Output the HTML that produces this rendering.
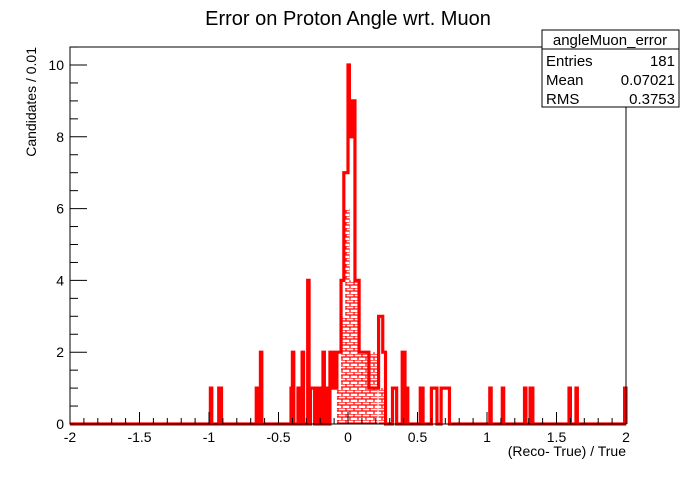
<!DOCTYPE html>
<html><head><meta charset="utf-8"><style>
body{margin:0;background:#fff;}
svg text{font-family:"Liberation Sans",Arial,sans-serif;}
</style></head><body>
<svg id="chart" width="696" height="472" xmlns="http://www.w3.org/2000/svg">
<defs>
<pattern id="brick" width="8" height="6" patternUnits="userSpaceOnUse">
<rect width="8" height="6" fill="#fff"/>
<path d="M0 0H8M0 3H8M2 0V3M6 3V6" stroke="#f00" stroke-width="1.2"/>
</pattern>
</defs>
<rect width="696" height="472" fill="#fff"/>
<text x="348" y="25" font-size="20" text-anchor="middle">Error on Proton Angle wrt. Muon</text>
<g id="hatch"></g>
<g id="marks"></g>
<rect x="70" y="47" width="556" height="377" fill="none" stroke="#000" stroke-width="1"/>
<g id="axes"></g>
<text transform="translate(36,47) rotate(-90)" font-size="14" text-anchor="end">Candidates / 0.01</text>
<text x="626" y="456" font-size="14" text-anchor="end">(Reco- True) / True</text>
<g>
<rect x="542" y="30" width="137" height="77" fill="#fff" stroke="#000"/>
<line x1="542" y1="49" x2="679" y2="49" stroke="#000"/>
<text x="610" y="45" font-size="15" text-anchor="middle">angleMuon_error</text>
<text x="546" y="66" font-size="15">Entries</text><text x="675" y="66" font-size="15" text-anchor="end">181</text>
<text x="546" y="85" font-size="15">Mean</text><text x="675" y="85" font-size="15" text-anchor="end">0.07021</text>
<text x="546" y="104" font-size="15">RMS</text><text x="675" y="104" font-size="15" text-anchor="end">0.3753</text>
</g>
</svg>
<script>
// bin low edges in units of 0.01, and counts
const binEdges = [-99,-93,-92,-66,-63,-41,-40,-36,-35,-33,-29,-27,-26,-25,-23,-20,-18,-17,-15,-13,-12,-11,-10,-9,-8,-7,-6,-5,-4,-3,-2,-1,0,1,2,3,4,5,6,7,8,9,10,11,12,13,14,15,16,17,18,19,20,21,22,23,24,25,26,32,33,34,39,40,42,52,53,60,61,62,63,67,68,69,70,71,72,102,111,127,131,132,159,164,199];
const binCounts = [1,1,1,1,2,1,2,1,1,2,4,1,1,1,1,1,2,1,1,2,2,1,2,1,2,2,2,4,4,7,7,7,10,8,8,9,9,4,4,4,2,2,2,2,2,2,2,1,1,1,1,1,1,1,3,3,3,2,2,1,1,1,2,2,1,1,1,1,1,1,1,1,1,1,1,1,1,1,1,1,1,1,1,1,1];
const hatchEdges = [-8,-7,-6,-5,-4,-3,-2,-1,0,1,2,3,4,5,6,7,8,9,10,11,12,13,14,15,16,17,18,19,20,22,23,24,25];
const hatchCounts = [1,1,1,3,3,3,6,6,6,4,4,4,4,4,4,4,2,2,2,2,2,2,2,2,2,2,2,2,2,1,1,1,1];
const xTicks = [-2,-1.5,-1,-0.5,0,0.5,1,1.5,2];
const xTickLabels = ["-2","-1.5","-1","-0.5","0","0.5","1","1.5","2"];
const yTicks = [0,2,4,6,8,10];
const yTickLabels = ["0","2","4","6","8","10"];

const X0=70,X1=626,Y0=424,Y1=47,xmin=-2,xmax=2,ymax=10.5;
const xs=v=>X0+(v-xmin)/(xmax-xmin)*(X1-X0);
const ys=c=>Y0-c*((Y0-65)/10);
const NS="http://www.w3.org/2000/svg";
function mk(tag,attrs,parent){const e=document.createElementNS(NS,tag);for(const k in attrs)e.setAttribute(k,attrs[k]);parent.appendChild(e);return e;}
const hg=document.getElementById('hatch'),mg=document.getElementById('marks'),ag=document.getElementById('axes');
hatchEdges.forEach((b,i)=>{
 const x=xs(b/100),w=xs((b+1)/100)-x;
 const r=mk('rect',{x:x,y:ys(hatchCounts[i]),width:w+0.3,height:Y0-ys(hatchCounts[i]),fill:'url(#brick)'},hg);
 
 
});
const counts={};binEdges.forEach((b,i)=>counts[b]=binCounts[i]);
let d='M'+xs(-2)+' '+Y0;let prev=0;
for(let b=-200;b<200;b++){const c=counts[b]||0;const x=xs(b/100);if(c!==prev){d+=' L'+x+' '+ys(prev)+' L'+x+' '+ys(c);}prev=c;}
d+=' L'+xs(2)+' '+ys(prev)+' L'+xs(2)+' '+Y0;
const p=mk('path',{d:d,fill:'none',stroke:'#f00','stroke-width':3.2},mg);


for(let k=0;k<=40;k++){const v=-2+k*0.1;const major=k%5===0;
 mk('line',{x1:xs(v),x2:xs(v),y1:Y0,y2:Y0-(major?12:6),stroke:'#000'},ag);}
xTicks.forEach((v,i)=>{const t=mk('text',{x:xs(v),y:Y0+18,'font-size':14,'text-anchor':'middle'},ag);t.textContent=xTickLabels[i];
 
 });
for(let k=0;k<=21;k++){const v=k*0.5;const major=k%4===0;
 mk('line',{x1:X0,x2:X0+(major?17:8),y1:ys(v),y2:ys(v),stroke:'#000'},ag);}
yTicks.forEach((v,i)=>{const t=mk('text',{x:X0-6,y:ys(v)+5,'font-size':14,'text-anchor':'end'},ag);t.textContent=yTickLabels[i];
 
 });
</script>
</body></html>
